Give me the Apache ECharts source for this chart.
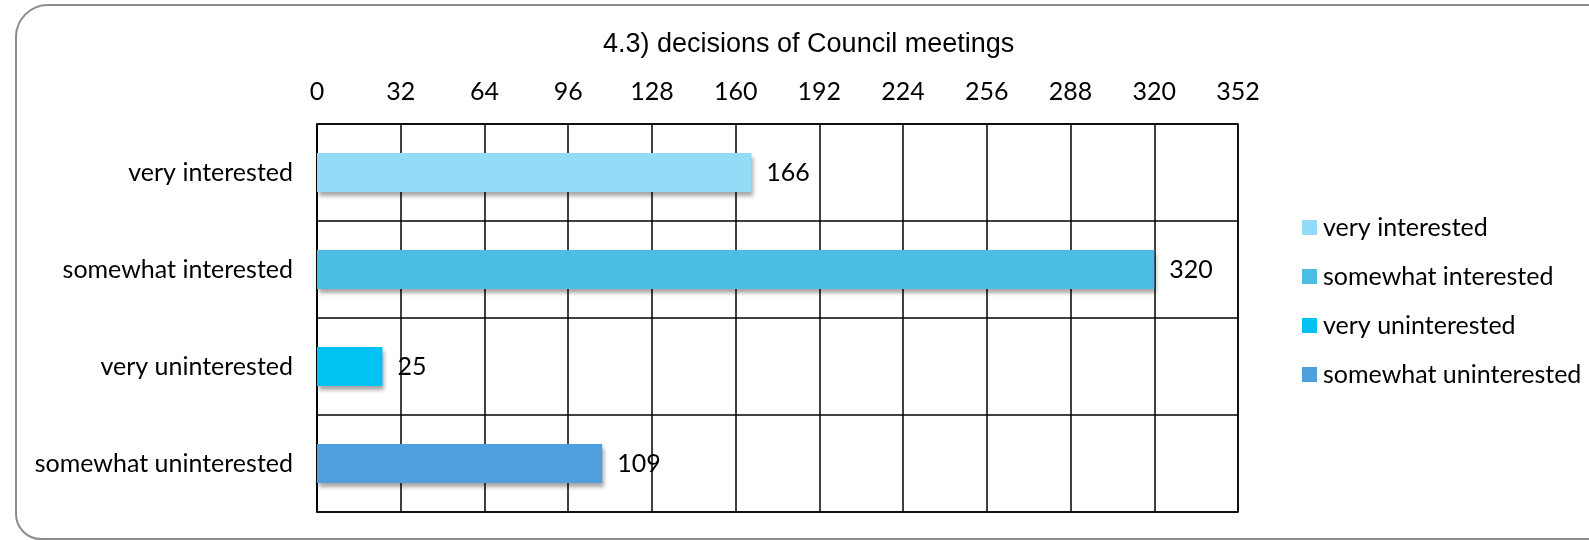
<!DOCTYPE html>
<html>
<head>
<meta charset="utf-8">
<script src="https://cdn.jsdelivr.net/npm/echarts@6/dist/echarts.min.js"></script>
<style>
  html, body { margin: 0; padding: 0; background: #fff; }
  #main { width: 1589px; height: 540px; }
</style>
</head>
<body>
<div id="main"></div>
<script>
const titleText = '4.3) decisions of Council meetings';
const categories = ['very interested', 'somewhat interested', 'very uninterested', 'somewhat uninterested'];
const values = [166, 320, 25, 109];
const axisMax = 352;
const axisStep = 32;
const colors = ['#93dbf6', '#4bbde3', '#00c2f3', '#4f9fdc'];

const labelFont = 'Lato';
const myChart = echarts.init(document.getElementById('main'), null, {renderer: 'canvas'});

// one series per category so the legend lists each bar
const series = categories.map((name, i) => ({
    name,
    type: 'bar',
    stack: 'all',
    barWidth: 39,
    data: categories.map((c, j) => (j === i ? values[j] : null)),
    itemStyle: {
        color: colors[i],
        shadowBlur: 4,
        shadowOffsetX: 2,
        shadowOffsetY: 4,
        shadowColor: 'rgba(0,0,0,0.35)'
    },
    label: {
        show: true,
        position: 'right',
        distance: 15,
        color: '#000',
        fontFamily: labelFont,
        fontSize: 25
    }
}));

const option = {
    animation: false,
    title: {
        text: titleText,
        left: 598,
        top: 26,
        textStyle: {
            fontFamily: 'Liberation Sans',
            fontWeight: 'normal',
            fontSize: 27,
            color: '#000'
        }
    },
    legend: {
        orient: 'vertical',
        left: 1297,
        top: 210,
        itemWidth: 15,
        itemHeight: 15,
        itemGap: 24,
        icon: 'rect',
        data: categories,
        textStyle: {
            fontFamily: labelFont,
            fontSize: 25,
            color: '#000',
            padding: [0, 0, 0, 1]
        }
    },
    grid: {
        left: 317,
        right: 351,
        top: 124,
        bottom: 28,
        show: true,
        borderColor: '#000',
        borderWidth: 1.5
    },
    xAxis: {
        type: 'value',
        position: 'top',
        min: 0,
        max: axisMax,
        interval: axisStep,
        axisLine: { show: false },
        axisTick: { show: false },
        splitLine: { lineStyle: { color: '#000', width: 1.5 } },
        axisLabel: {
            margin: 20,
            color: '#000',
            fontFamily: labelFont,
            fontSize: 25
        }
    },
    yAxis: {
        type: 'category',
        inverse: true,
        data: categories,
        axisLine: { lineStyle: { color: '#000', width: 1.5 } },
        axisTick: { show: false },
        splitLine: { show: true, lineStyle: { color: '#000', width: 1.5 } },
        axisLabel: {
            margin: 24,
            color: '#000',
            fontFamily: labelFont,
            fontSize: 25
        }
    },
    graphic: [{
        type: 'rect',
        silent: true,
        shape: { x: 16, y: 5, width: 1700, height: 534, r: [32, 0, 0, 25] },
        style: { fill: 'none', stroke: '#8c8c8c', lineWidth: 2 }
    }],
    series
};

myChart.setOption(option);
</script>
</body>
</html>
